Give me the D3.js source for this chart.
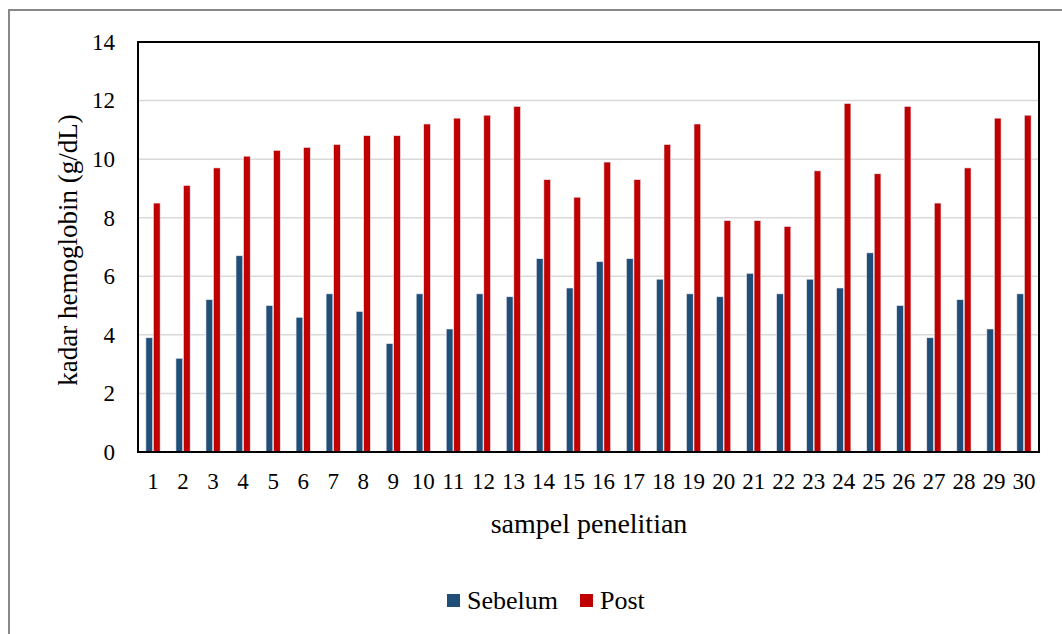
<!DOCTYPE html>
<html>
<head>
<meta charset="utf-8">
<script src="https://cdn.jsdelivr.net/npm/d3@7/dist/d3.min.js"></script>
<style>
  html, body { margin: 0; padding: 0; background: #fff; }
  svg { display: block; }
</style>
</head>
<body>
<svg id="chart" width="1062" height="634"></svg>
<script>
const categories = d3.range(1, 31).map(String);
const seriesNames = ["Sebelum", "Post"];
const sebelum = [3.9, 3.2, 5.2, 6.7, 5.0, 4.6, 5.4, 4.8, 3.7, 5.4, 4.2, 5.4, 5.3, 6.6, 5.6, 6.5, 6.6, 5.9, 5.4, 5.3, 6.1, 5.4, 5.9, 5.6, 6.8, 5.0, 3.9, 5.2, 4.2, 5.4];
const post = [8.5, 9.1, 9.7, 10.1, 10.3, 10.4, 10.5, 10.8, 10.8, 11.2, 11.4, 11.5, 11.8, 9.3, 8.7, 9.9, 9.3, 10.5, 11.2, 7.9, 7.9, 7.7, 9.6, 11.9, 9.5, 11.8, 8.5, 9.7, 11.4, 11.5];
const yTicks = [0, 2, 4, 6, 8, 10, 12, 14];
const colors = ["#1F4E79", "#C00000"];
const yTitle = "kadar hemoglobin (g/dL)";
const xTitle = "sampel penelitian";

const FONT = "'Liberation Serif', 'Times New Roman', serif";
const svg = d3.select("#chart");
const L = 138, R = 1039, T = 42, B = 452;

// outer border
svg.append("rect").attr("x", 9).attr("y", 10).attr("width", 1080).attr("height", 700)
  .attr("fill", "none").attr("stroke", "#888").attr("stroke-width", 2);

const x = d3.scaleBand().domain(categories).range([L, R]).padding(0);
const xSub = d3.scaleBand().domain(seriesNames).range([0, x.bandwidth()]).paddingInner(0).paddingOuter(1);
const y = d3.scaleLinear().domain([0, 14]).range([B, T]);

// gridlines
svg.append("g").selectAll("line").data(yTicks.filter(d => d > 0 && d < 14)).join("line")
  .attr("x1", L).attr("x2", R).attr("y1", d => y(d)).attr("y2", d => y(d))
  .attr("stroke", "#d9d9d9").attr("stroke-width", 1.5);

// bars
const data = categories.map((c, i) => ({ c, vals: [sebelum[i], post[i]] }));
const groups = svg.append("g").selectAll("g").data(data).join("g")
  .attr("transform", d => `translate(${x(d.c)},0)`);
groups.selectAll("rect").data(d => d.vals.map((v, j) => ({ s: seriesNames[j], v, j }))).join("rect")
  .attr("x", d => xSub(d.s) + 0.4)
  .attr("width", xSub.bandwidth() - 0.8)
  .attr("y", d => y(d.v))
  .attr("height", d => B - y(d.v))
  .attr("fill", d => colors[d.j])
  .attr("stroke", "#e8e8f0").attr("stroke-width", 0.6);

// frame
svg.append("rect").attr("x", L).attr("y", T).attr("width", R - L).attr("height", B - T)
  .attr("fill", "none").attr("stroke", "#000").attr("stroke-width", 2);

// y axis
const yAxis = svg.append("g").attr("transform", `translate(${L},0)`)
  .call(d3.axisLeft(y).tickValues(yTicks).tickSize(0).tickPadding(23));
yAxis.select(".domain").remove();
yAxis.attr("font-family", null).attr("font-size", null);
yAxis.selectAll("text").style("font-family", FONT).style("font-size", "23px").attr("fill", "#000");

// x axis
const xAxis = svg.append("g").attr("transform", `translate(0,${B})`)
  .call(d3.axisBottom(x).tickSize(0).tickPadding(21));
xAxis.select(".domain").remove();
xAxis.attr("font-family", null).attr("font-size", null);
xAxis.selectAll("text").style("font-family", FONT).style("font-size", "23px").attr("fill", "#000");

// titles
svg.append("text").attr("transform", `translate(77,250) rotate(-90)`)
  .attr("text-anchor", "middle").style("font-family", FONT).style("font-size", "27px").attr("fill", "#000").text(yTitle);
svg.append("text").attr("x", 589).attr("y", 533)
  .attr("text-anchor", "middle").style("font-family", FONT).style("font-size", "28px").attr("fill", "#000").text(xTitle);

// legend
const legend = svg.append("g");
const legX = [447, 580];
seriesNames.forEach((s, i) => {
  legend.append("rect").attr("x", legX[i]).attr("y", 594).attr("width", 13).attr("height", 13).attr("fill", colors[i]);
  legend.append("text").attr("x", legX[i] + 20).attr("y", 609)
    .style("font-family", FONT).style("font-size", "26px").attr("fill", "#000").text(s);
});
</script>
</body>
</html>
